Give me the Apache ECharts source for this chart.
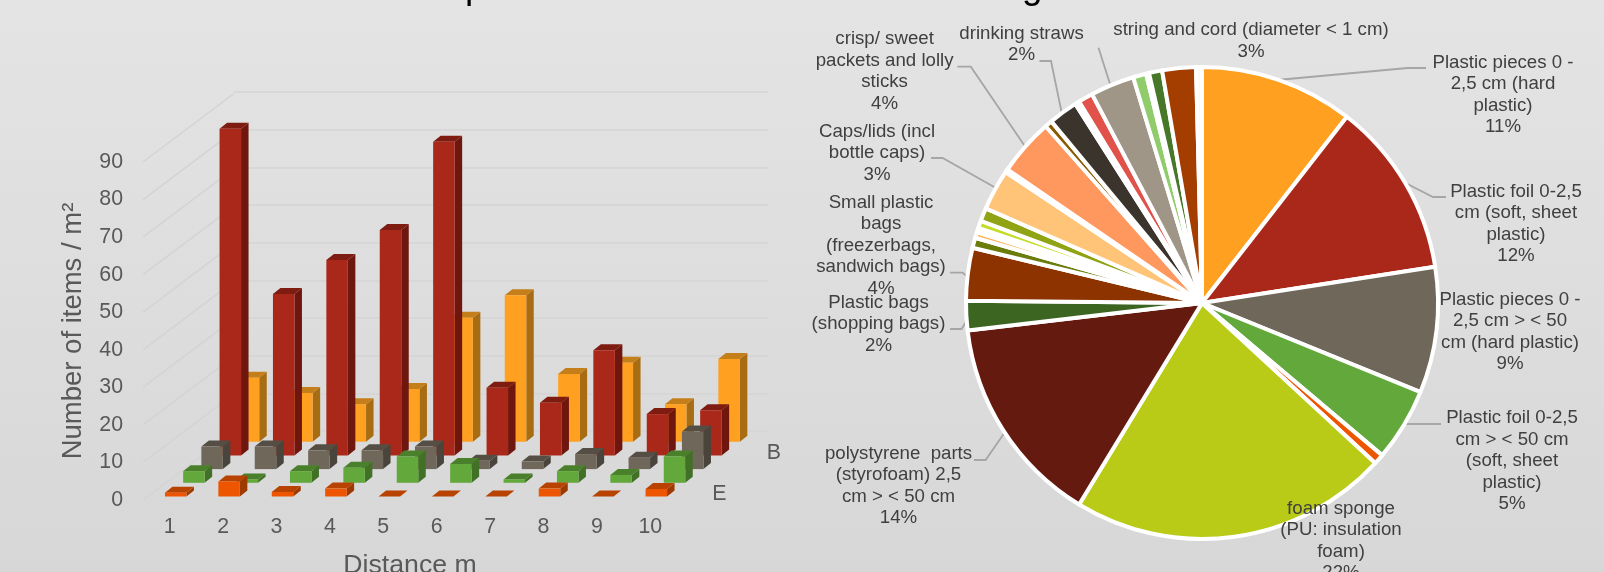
<!DOCTYPE html>
<html><head><meta charset="utf-8">
<style>html,body{margin:0;padding:0;overflow:hidden;background:#ddd}#c{width:1604px;height:572px}</style>
<script src="https://cdn.jsdelivr.net/npm/echarts@6/dist/echarts.min.js"></script>
</head><body><div id="c"></div>
<script>
// ---- data ----
const distances = ['1','2','3','4','5','6','7','8','9','10'];
const valueTicks = [0,10,20,30,40,50,60,70,80,90];
const rowA = [17,13,10,14,33,39,18,21,10,22];
const rowB = [87,43,52,60,83.5,18,14,28,11,12];
const rowC = [6,6,5,5,6,2.2,2,4,3,10];
const rowD = [3.1,0.9,3.1,4,7,5,0.9,3.1,2.1,7];
const rowE = [1,4,1.2,2.1,0,0,0,2.1,0,2];
const depthLabels = ['','B','','','E'];

const pieNames = ['Plastic pieces 0 -\n2,5 cm (hard\nplastic)','Plastic foil 0-2,5\ncm (soft, sheet\nplastic)','Plastic pieces 0 -\n2,5 cm > < 50\ncm (hard plastic)','Plastic foil 0-2,5\ncm > < 50 cm\n(soft, sheet\nplastic)','foam fine','foam sponge\n(PU: insulation\nfoam)','polystyrene  parts\n(styrofoam) 2,5\ncm > < 50 cm','Plastic bags\n(shopping bags)','Small plastic\nbags\n(freezerbags,\nsandwich bags)','thin a','thin b','thin c','thin d','thin e','Caps/lids (incl\nbottle caps)','thin f','crisp/ sweet\npackets and lolly\nsticks','thin g','drinking straws','thin h','thin i','string and cord (diameter < 1 cm)','thin j','thin k','thin l','thin m','thin n'];
const pieValues = [10.5,12,8.6,5,0.7,21.8,14.4,2,3.6,0.7,0.4,0.3,0.5,0.9,2.8,0.2,3.9,0.5,2,0.3,1,3,0.9,0.2,0.9,2.3,0.4];
const piePercents = ['11%','12%','9%','5%','','22%','14%','2%','4%','','','','','','3%','','4%','','2%','','','3%','','','','',''];
const pieColors = ['#FFA021','#A9281A','#6F675A','#62A83A','#EE5500','#B9CB17','#651A10','#3D6522','#8C3300','#6B7C0A','#FFB55A','#FFF3E8','#C5DC28','#8FA314','#FFC478','#FFF3E8','#FF985E','#8A5A00','#3A342C','#F4F1EC','#E0524A','#A09688','#90CC6C','#F4F8EE','#47782A','#A33E00','#FFF8EE'];

// label centres and leader lines, in canvas pixels
const labelSpots = {
  0:{x:1503,y:95,line:[[1277,80],[1407.7,68],[1426,68]]},
  1:{x:1516,y:224,line:[[1405,182.7],[1433,197],[1446,197]]},
  2:{x:1510,y:332},
  3:{x:1512,y:461,line:[[1402.5,424],[1420,424],[1441,424]]},
  5:{x:1341,y:541},
  6:{x:898.5,y:486,line:[[1005,432],[985.6,460],[974,460]]},
  7:{x:878.5,y:324,line:[[967.7,319],[961.5,329],[950,329]]},
  8:{x:881,y:245.5,line:[[967.7,276.7],[962.6,272.7],[950,272.7]]},
  14:{x:877,y:153,line:[[996,188],[942.6,158],[931,158]]},
  16:{x:884.6,y:71.5,line:[[1024.6,145.7],[970.8,66.7],[957.4,66.7]]},
  18:{x:1021.5,y:44.5,line:[[1061.5,111.7],[1051,61],[1039.5,61]]},
  21:{x:1251,y:41,line:[[1110,84],[1098.5,47.7],[1098.5,47.7]]}
};

// ---- oblique projection of the 3D floor, in pixels ----
const rowStep = [18.2,-13.7];          // shift from one row to the next one behind
const barDepth = [7.5,-6];             // visible depth of one bar
const barWidth = 21.5;
const frontLift = [6,-3.5];            // bar face offset within the row E slot
const rows = [
  {name:'A',data:rowA,depth:4,face:'#FFA021',side:'#A86D12',top:'#C47F1A'},
  {name:'B',data:rowB,depth:3,face:'#A9281A',side:'#6F170F',top:'#7E1C12'},
  {name:'C',data:rowC,depth:2,face:'#6F675A',side:'#4A453C',top:'#544E44'},
  {name:'D',data:rowD,depth:1,face:'#62A83A',side:'#417026',top:'#4A802B'},
  {name:'E',data:rowE,depth:0,face:'#EE5500',side:'#9E3900',top:'#B84200'}
];

function barItem(row){
  return function(params,api){
    const cat = api.value(0), val = api.value(1);
    const base = api.coord([cat,0]), top = api.coord([cat,val]);
    const ox = row.depth*rowStep[0] + frontLift[0] - barWidth/2 , oy = row.depth*rowStep[1] + frontLift[1];
    const x0 = base[0]+ox, x1 = x0+barWidth, yb = base[1]+oy, yt = top[1]+oy;
    const dx = barDepth[0], dy = barDepth[1];
    const poly = (pts,fill)=>({type:'polygon',shape:{points:pts},style:{fill:fill}});
    const kids = [];
    kids.push(poly([[x1,yb],[x1+dx,yb+dy],[x1+dx,yt+dy],[x1,yt]],row.side));
    kids.push(poly([[x0,yt],[x1,yt],[x1+dx,yt+dy],[x0+dx,yt+dy]],row.top));
    if (yb-yt>0.1) kids.push(poly([[x0,yb],[x1,yb],[x1,yt],[x0,yt]],row.face));
    return {type:'group',children:kids};
  };
}

const barSeries = rows.map((row,i)=>({
  type:'custom',name:row.name,xAxisIndex:0,yAxisIndex:0,z:10+i,silent:true,clip:false,
  renderItem:barItem(row),encode:{x:0,y:1},
  data:row.data.map((v,c)=>[c,v])
}));

const sideWall = {
  type:'custom',xAxisIndex:0,yAxisIndex:0,z:2,silent:true,clip:false,
  data:valueTicks.map(v=>[0,v]),encode:{x:0,y:1},
  renderItem(params,api){
    const p = api.coord([0,api.value(1)]);
    const half = api.size([1,0])[0]/2;
    const sx = p[0]-half, sy = p[1];
    return {type:'line',shape:{x1:sx,y1:sy,x2:sx+5*rowStep[0],y2:sy+5*rowStep[1]},style:{stroke:'#D4D4D4',lineWidth:1.5}};
  }
};

const depthText = {
  type:'custom',xAxisIndex:0,yAxisIndex:0,z:30,silent:true,clip:false,
  data:depthLabels.map((t,i)=>[9,0,i,t]).filter(d=>d[3]),
  encode:{x:0,y:1},
  renderItem(params,api){
    const p = api.coord([9,0]);
    const d = 4-api.value(2);
    return {type:'text',x:p[0]+69+d*rowStep[0],y:p[1]-6+d*rowStep[1],
      style:{text:depthLabels[api.value(2)],fill:'#595959',font:'21.33px "Liberation Sans"',align:'center',verticalAlign:'middle'}};
  }
};

const pie = {
  type:'pie',center:[1202,303],radius:[0,236],startAngle:90,clockwise:true,z:5,silent:true,
  avoidLabelOverlap:false,minAngle:0,
  itemStyle:{borderColor:'#fff',borderWidth:4},
  label:{show:true,position:'outside',color:'#404040',fontSize:18.67,fontFamily:'Liberation Sans',lineHeight:21.5,align:'center',
    formatter:p=>piePercents[p.dataIndex]?p.name+'\n'+piePercents[p.dataIndex]:''},
  labelLine:{show:true,lineStyle:{color:'#A6A6A6',width:1.8}},
  labelLayout(p){
    const s = labelSpots[p.dataIndex];
    const off = [[-100,-100],[-100,-100],[-100,-100]];
    if(!s) return {x:-100,y:-100,labelLinePoints:off};
    return {x:s.x,y:s.y,align:'center',verticalAlign:'middle',labelLinePoints:s.line||off};
  },
  data:pieNames.map((n,i)=>({name:n,value:pieValues[i],itemStyle:{color:pieColors[i]}}))
};

const chart = echarts.init(document.getElementById('c'),null,{renderer:'canvas'});
const axisFont = {color:'#595959',fontSize:21.33,fontFamily:'Liberation Sans'};
chart.setOption({
  animation:false,
  backgroundColor:{type:'linear',x:0,y:0,x2:0,y2:1,colorStops:[{offset:0,color:'#E4E4E4'},{offset:1,color:'#D7D7D7'}]},
  grid:[
    {left:143,width:534,top:162,height:338,outerBoundsMode:'none'},
    {left:234,width:534,top:92,height:339,outerBoundsMode:'none'}
  ],
  xAxis:[
    {type:'category',gridIndex:0,data:distances,axisLine:{show:false},axisTick:{show:false},
     axisLabel:Object.assign({margin:17},axisFont),
     name:'Distance m',nameLocation:'middle',nameGap:52,nameTextStyle:{color:'#595959',fontSize:26.67,fontFamily:'Liberation Sans'}},
    {type:'category',gridIndex:1,data:distances,show:false}
  ],
  yAxis:[
    {type:'value',gridIndex:0,min:0,max:90,interval:10,axisLine:{show:false},axisTick:{show:false},splitLine:{show:false},
     axisLabel:Object.assign({margin:20},axisFont),
     name:'Number of items / m²',nameLocation:'middle',nameGap:56,nameTextStyle:{color:'#595959',fontSize:27.5,fontFamily:'Liberation Sans'}},
    {type:'value',gridIndex:1,min:0,max:90,interval:10,axisLine:{show:false},axisTick:{show:false},axisLabel:{show:false},
     splitLine:{show:true,lineStyle:{color:'#D4D4D4',width:1.5}}}
  ],
  graphic:[
    {type:'text',x:465,y:-31,silent:true,style:{text:'p',fill:'#000',font:'37px "Liberation Sans"'}},
    {type:'text',x:1022,y:-31,silent:true,style:{text:'g',fill:'#000',font:'37px "Liberation Sans"'}}
  ],
  series:[sideWall].concat(barSeries,[depthText,pie])
});
</script></body></html>
